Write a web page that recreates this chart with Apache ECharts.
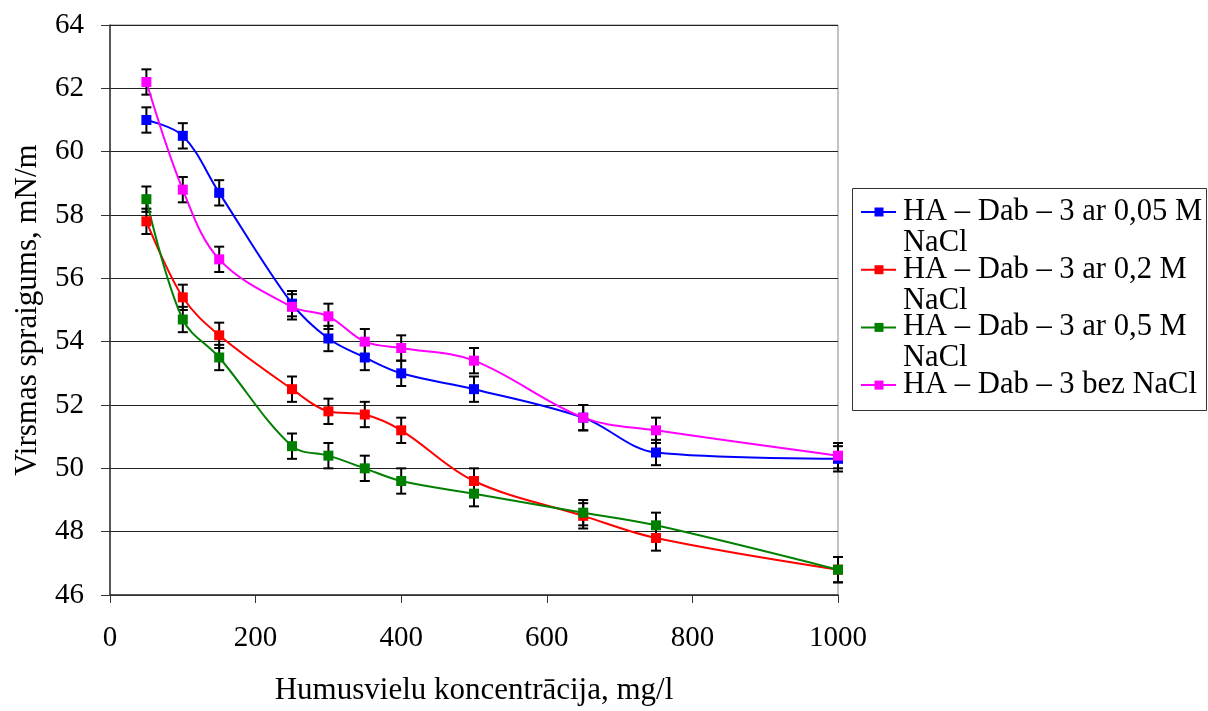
<!DOCTYPE html>
<html>
<head>
<meta charset="utf-8">
<script src="https://cdn.jsdelivr.net/npm/echarts@6/dist/echarts.min.js"></script>
<style>
html,body{margin:0;padding:0;background:#fff;}
#chart{width:1208px;height:711px;}
</style>
</head>
<body>
<div id="chart"></div>
<script>
const xValues = [50, 100, 150, 250, 300, 350, 400, 500, 650, 750, 1000];
const seriesNames = [
  'HA – Dab – 3 ar 0,05 M\nNaCl',
  'HA – Dab – 3 ar 0,2 M\nNaCl',
  'HA – Dab – 3 ar 0,5 M\nNaCl',
  'HA – Dab – 3 bez NaCl'
];
const seriesColors = ['#0000FF', '#FF0000', '#008000', '#FF00FF'];
const valuesBlue    = [61.0, 60.5, 58.7, 55.2, 54.1, 53.5, 53.0, 52.5, 51.6, 50.5, 50.3];
const valuesRed     = [57.8, 55.4, 54.2, 52.5, 51.8, 51.7, 51.2, 49.6, 48.5, 47.8, 46.8];
const valuesGreen   = [58.5, 54.7, 53.5, 50.7, 50.4, 50.0, 49.6, 49.2, 48.6, 48.2, 46.8];
const valuesMagenta = [62.2, 58.8, 56.6, 55.1, 54.8, 54.0, 53.8, 53.4, 51.6, 51.2, 50.4];
const errBlue    = [0.4, 0.4, 0.4, 0.4, 0.4, 0.4, 0.4, 0.4, 0.4, 0.4, 0.4];
const errRed     = [0.4, 0.4, 0.4, 0.4, 0.4, 0.4, 0.4, 0.4, 0.4, 0.4, 0.4];
const errGreen   = [0.4, 0.4, 0.4, 0.4, 0.4, 0.4, 0.4, 0.4, 0.4, 0.4, 0.4];
const errMagenta = [0.4, 0.4, 0.4, 0.4, 0.4, 0.4, 0.4, 0.4, 0.4, 0.4, 0.4];
const yTicks = [46, 48, 50, 52, 54, 56, 58, 60, 62, 64];
const xTicks = [0, 200, 400, 600, 800, 1000];
const xTitle = 'Humusvielu koncentrācija, mg/l';
const yTitle = 'Virsmas spraigums, mN/m';

const allValues = [valuesBlue, valuesRed, valuesGreen, valuesMagenta];
const allErrs = [errBlue, errRed, errGreen, errMagenta];
const FONT = '"Liberation Serif", "Times New Roman", serif';

const chart = echarts.init(document.getElementById('chart'), null, {renderer: 'canvas'});

function errRender(params, api) {
  const x = api.value(0), lo = api.value(1), hi = api.value(2);
  const pt = api.coord([x, hi]);
  const pb = api.coord([x, lo]);
  const w = 5;
  const st = {stroke: '#000', lineWidth: 2};
  return {
    type: 'group',
    children: [
      {type: 'line', shape: {x1: pt[0], y1: pt[1], x2: pb[0], y2: pb[1]}, style: st},
      {type: 'line', shape: {x1: pt[0] - w, y1: pt[1], x2: pt[0] + w, y2: pt[1]}, style: st},
      {type: 'line', shape: {x1: pb[0] - w, y1: pb[1], x2: pb[0] + w, y2: pb[1]}, style: st}
    ]
  };
}

const series = [];
allValues.forEach((vals, i) => {
  series.push({
    type: 'custom',
    name: 'err' + i,
    renderItem: errRender,
    data: vals.map((v, j) => [xValues[j], v - allErrs[i][j], v + allErrs[i][j]]),
    z: 2,
    silent: true
  });
});
allValues.forEach((vals, i) => {
  series.push({
    type: 'line',
    name: seriesNames[i],
    data: vals.map((v, j) => [xValues[j], v]),
    smooth: 0.35,
    symbol: 'rect',
    symbolSize: 10,
    lineStyle: {color: seriesColors[i], width: 2},
    itemStyle: {color: seriesColors[i]},
    z: 3
  });
});

const legendGraphics = [{
  type: 'rect',
  shape: {x: 852.5, y: 188.5, width: 354, height: 222},
  style: {fill: '#fff', stroke: '#333', lineWidth: 1}
}];
seriesNames.forEach((name, i) => {
  const cy = 212 + i * 57.7;
  legendGraphics.push({
    type: 'line', shape: {x1: 861, y1: cy, x2: 896, y2: cy},
    style: {stroke: seriesColors[i], lineWidth: 2}
  });
  legendGraphics.push({
    type: 'rect', shape: {x: 874.5, y: cy - 4.5, width: 9, height: 9},
    style: {fill: seriesColors[i]}
  });
  legendGraphics.push({
    type: 'text', x: 903, y: cy - 15.5,
    style: {text: name, font: '30.6px ' + FONT, fill: '#000', lineHeight: 31, verticalAlign: 'top', align: 'left'}
  });
});

chart.setOption({
  animation: false,
  backgroundColor: '#fff',
  grid: {left: 110, top: 25, right: 370, bottom: 113, show: true, borderColor: '#888', borderWidth: 1},
  xAxis: {
    type: 'value',
    min: xTicks[0], max: xTicks[xTicks.length - 1], interval: 200,
    name: xTitle, nameLocation: 'middle', nameGap: 80,
    nameTextStyle: {fontFamily: FONT, fontSize: 31, color: '#000'},
    axisLine: {lineStyle: {color: '#333', width: 1.5}},
    axisTick: {show: true, length: 8, lineStyle: {color: '#333'}},
    axisLabel: {fontFamily: FONT, fontSize: 29, color: '#000', margin: 29, formatter: v => String(v)},
    splitLine: {show: false}
  },
  yAxis: {
    type: 'value',
    min: yTicks[0], max: yTicks[yTicks.length - 1], interval: 2,
    name: yTitle, nameLocation: 'middle', nameGap: 67,
    nameTextStyle: {fontFamily: FONT, fontSize: 31, color: '#000'},
    axisLine: {show: true, lineStyle: {color: '#333', width: 1.5}},
    axisTick: {show: true, length: 9, lineStyle: {color: '#333'}},
    axisLabel: {fontFamily: FONT, fontSize: 29, color: '#000', margin: 26},
    splitLine: {show: true, lineStyle: {color: '#222', width: 1}}
  },
  legend: {show: false},
  graphic: legendGraphics,
  series: series
});
</script>
</body>
</html>
